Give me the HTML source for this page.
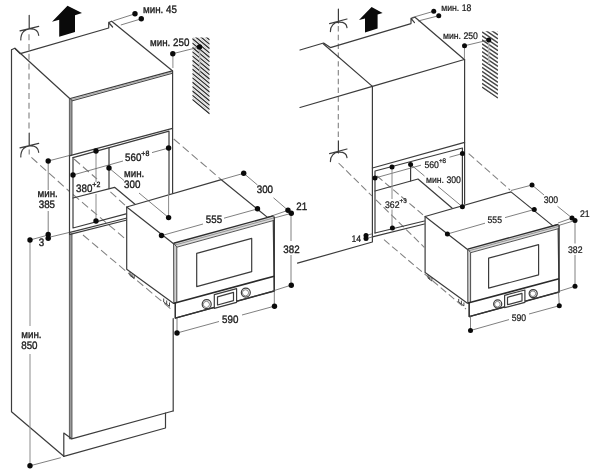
<!DOCTYPE html>
<html><head><meta charset="utf-8"><title>diagram</title>
<style>
html,body{margin:0;padding:0;background:#fff;}
svg{display:block;will-change:transform}
text{font-family:"Liberation Sans",sans-serif;font-size:9.8px;fill:#1c1c1c;stroke:#1c1c1c;stroke-width:.32;text-rendering:geometricPrecision}
.m{stroke:#3c3c3c;stroke-width:1.2;fill:none;stroke-linejoin:round;stroke-linecap:round}
.mw{stroke:#3c3c3c;stroke-width:1.2;fill:#fff;stroke-linejoin:round}
.t{stroke:#555;stroke-width:.7;fill:none}
.d{stroke:#555;stroke-width:.75;fill:none}
.g{stroke:#8c8c8c;stroke-width:1;fill:none}
.f{stroke:#333;stroke-width:.9;fill:none}
.h{stroke:#808080;stroke-width:1.05;fill:none;stroke-dasharray:8 3.8}
.hv{stroke:#808080;stroke-width:1.1;fill:none;stroke-dasharray:6 3.8}
#R .h{stroke-dasharray:7.2 3.4}
#R .hv{stroke-dasharray:5.4 3.4}
.k{fill:#0a0a0a}
.s{font-size:7px}
#R text{font-size:8.7px;stroke-width:.22}
#R .s{font-size:6.3px}
</style></head><body>
<svg width="600" height="471" viewBox="0 0 600 471">
<rect width="600" height="471" fill="#fff"/>

<!-- ================= LEFT DIAGRAM ================= -->
<g id="L">
<g id="hatchL"><clipPath id="hlc"><path d="M192.3 37.5 L209.7 37.5 L209.7 114.9 L192.3 100.5 Z"/></clipPath>
<path clip-path="url(#hlc)" d="M192.3 99.50 L209.7 113.94 M192.3 95.15 L209.7 109.59 M192.3 90.80 L209.7 105.24 M192.3 86.45 L209.7 100.89 M192.3 82.10 L209.7 96.54 M192.3 77.75 L209.7 92.19 M192.3 73.40 L209.7 87.84 M192.3 69.05 L209.7 83.49 M192.3 64.70 L209.7 79.14 M192.3 60.35 L209.7 74.79 M192.3 56.00 L209.7 70.44 M192.3 51.65 L209.7 66.09 M192.3 47.30 L209.7 61.74 M192.3 42.95 L209.7 57.39 M192.3 38.60 L209.7 53.04 M192.3 34.25 L209.7 48.69 M192.3 29.90 L209.7 44.34 M192.3 25.55 L209.7 39.99" stroke="#303030" stroke-width="1.3" fill="none"/><path clip-path="url(#hlc)" d="M192.3 97.33 L209.7 111.77 M192.3 92.98 L209.7 107.42 M192.3 88.63 L209.7 103.07 M192.3 84.28 L209.7 98.72 M192.3 79.93 L209.7 94.37 M192.3 75.58 L209.7 90.02 M192.3 71.23 L209.7 85.67 M192.3 66.88 L209.7 81.32 M192.3 62.53 L209.7 76.97 M192.3 58.18 L209.7 72.62 M192.3 53.83 L209.7 68.27 M192.3 49.48 L209.7 63.92 M192.3 45.13 L209.7 59.57 M192.3 40.78 L209.7 55.22 M192.3 36.43 L209.7 50.87 M192.3 32.08 L209.7 46.52 M192.3 27.73 L209.7 42.17 M192.3 23.38 L209.7 37.82" stroke="#b0b0b0" stroke-width="0.6" fill="none"/>
<path d="M199.7 47 L199.7 74" stroke="#b5b5b5" stroke-width="1.2"/></g>
<!-- dashed guide lines -->
<path class="hv" d="M29 34.2 L29 132"/>
<path class="hv" d="M29.2 149.5 L29.2 154.5"/><path class="h" d="M31.4 157.4 L69.5 191.5"/>
<path class="h" d="M73 194.5 L126.4 239.8"/>
<path class="h" d="M74 159 L97 179"/>
<path class="h" d="M110.4 191.8 L126.2 206.4"/>
<path class="h" d="M83 235 L172 309.9"/>
<path class="h" d="M173.7 139 L221.3 179.7"/>
<!-- symbols -->
<path class="m" d="M29.2 15.3 L29.2 29.2 M20 30.8 L38.7 26.3 M20.8 40 C20.6 33 25 28.6 30.2 28.8 C35 28.6 38.3 31 38.7 35.3"/>
<path class="m" d="M29.2 133 L29.2 146 M20 147.8 L38.7 143.3 M20.8 157 C20.6 150 25 145.6 30.2 145.8 C35 145.6 38.3 148 38.7 152.3"/>
<!-- arrow -->
<path class="k" d="M67.5 5.8 L82 13 L75 15.3 L75 32 L59.2 36.7 L59.2 19.7 L52 21.7 Z"/>
<!-- cabinet outline -->
<path class="m" d="M11.5 49.8 L14.8 48.3 L20.3 53.7 L108.7 28 L108.7 22.5 L111.7 21.2 L172.4 70.8 M108.7 22.5 L112.6 27"/>
<path class="m" d="M11.5 49.8 L11.5 411.7 L63.8 456.3"/>
<path class="m" d="M14.8 48.3 L70 98.7"/>
<path d="M70.2 98.5 L172.4 70.8 L172.4 73.3 L72 100.9 Z" fill="#d8d8d8" stroke="none"/><path class="m" d="M70.2 98.5 L172.4 70.8"/><path d="M72 100.9 L172.4 73.3" stroke="#444" stroke-width="1" fill="none"/><path d="M71 99.7 L172.4 72" stroke="#8a8a8a" stroke-width=".6" fill="none"/>
<path class="m" d="M172.6 70.8 L172.6 205 M173.2 318.5 L173.2 411"/>
<path d="M69.4 98.7 L72 100 L72 155.2 L69.4 155.8 Z" fill="#9a9a9a" stroke="#444" stroke-width=".8"/>
<path d="M69.4 234.5 L72 233.9 L72 438.8 L69.4 438.8 Z" fill="#9a9a9a" stroke="#444" stroke-width=".8"/>
<path class="m" d="M69.5 155.8 L69.5 234.5"/>
<!-- niche -->
<path class="m" d="M70 155.6 L172.5 128.3"/>
<path class="m" d="M73 157.6 L169 131.2 L169 194"/>
<path class="m" d="M73 157.6 L73 228 L127 213.6"/>
<path class="m" d="M109 148 L109 188.6"/>
<path class="m" d="M73 198 L114.6 187.3 L135 204.3"/>
<path class="m" d="M70 232.4 L127 218 M70 234.4 L127 220"/>
<!-- plinth -->
<path class="m" d="M63.8 456.3 L63.8 433 L71.7 438.8 L173 411"/>
<path class="m" d="M63.8 456.3 L165.5 428 L165.5 413"/>
<!-- microwave left -->
<g id="mwL">
<path class="mw" d="M126.7 207 L221.3 179.7 L267.5 217.4 L273.2 215.9 L274.2 290.8 L175.3 318.2 L175.3 303.3 L173.3 303.3 L126.7 269.2 Z"/>
<path class="m" d="M126.7 207 L174.2 244.2"/>
<path class="f" d="M130 272 L130 275.5 L134.2 278.6 L134.2 275 M132 277 L132 273.8"/>
<path class="f" d="M163.7 298.5 L163.7 302 L169.5 306.3 L169.5 302.5 M166.7 304.2 L166.7 300.5"/>
<path d="M173.6 243.2 L273.2 215.9 L274.2 220 L176.8 247 Z" fill="#dcdcdc" stroke="none"/>
<path d="M173.6 243.2 L273.2 215.9" stroke="#2e2e2e" stroke-width="1.4" fill="none"/>
<path d="M174.6 245.1 L273.8 217.9" stroke="#777" stroke-width=".7" fill="none"/>
<path d="M176.8 247.2 L274.2 220.3" stroke="#444" stroke-width=".9" fill="none"/>
<path d="M173.6 243.2 L176.8 247 L176.8 302.5 L173.8 303.3 Z" fill="#d0d0d0" stroke="#3a3a3a" stroke-width=".9"/>
<path d="M274.3 216.5 L274.3 291 L175.3 318.2 L175.3 303" stroke="#333" stroke-width="1.3" fill="none" stroke-linejoin="round"/>
<path d="M174 303.2 L274.2 276.2" stroke="#2a2a2a" stroke-width="1.6" fill="none"/>
<path class="m" d="M196.7 253.3 L251.7 238.3 L251.7 271.7 L196.7 286.7 Z"/>
<circle cx="206.7" cy="304.2" r="4.5" class="m"/><circle cx="206.4" cy="304.4" r="3.1" class="t"/>
<circle cx="245.8" cy="292.6" r="4.5" class="m"/><circle cx="245.5" cy="292.8" r="3.1" class="t"/>
<path class="mw" d="M214.3 294.6 L236.6 288.6 L236.6 302.3 L214.3 308.3 Z"/>
<path class="m" d="M217.5 296.8 L233.5 292.4 L233.5 300.6 L217.5 305 Z"/>
</g>
<!-- dimension lines -->
<path class="d" d="M113.3 20.8 L135 13.8 M120.8 25 L141.3 18.8"/>
<path class="g" d="M172.9 53.7 L172.9 68"/><path class="d" d="M172.8 53.7 L199.5 47"/>
<path class="d" d="M48.2 161 L69 155.6 M48.2 161 L48.2 190 M48.2 211 L48.2 236"/>
<path class="g" d="M96 151 L96 182 M96 194 L96 221"/>
<path class="d" d="M73 175 L123 161 M152 152.6 L168.6 148"/>
<path class="g" d="M168.6 148 L168.6 217.6"/>
<path class="d" d="M109 168 L124 180.5 M139 193 L168.6 217.6"/>
<path class="d" d="M30 240 L48.2 235 M48.2 237.5 L69 232.5 M30 465.8 L60.8 457.7"/><path class="g" d="M30 240 L30 326 M30 354 L30 465.8"/>
<path class="d" d="M161.6 235.6 L203 224 M224 218.2 L257.5 208.9"/>
<path class="d" d="M222 179.5 L243.7 173.3 L257.5 185 M273.5 197.8 L288 210.3 M273 215.5 L288 210.3 M274.2 218 L291.3 213.3"/>
<path class="d" d="M291 213 L291 241 M291 255 L291 285.2 L274.3 290.5 L274.3 306.2 M274.3 306.2 L242 315 M219 321.5 L177 333 L177 318"/>
<g class="k"><circle cx="135" cy="13.8" r="2.7"/><circle cx="141.3" cy="18.8" r="2.7"/><circle cx="172.8" cy="53.7" r="2.7"/><circle cx="199.5" cy="47" r="2.7"/><circle cx="48.2" cy="161" r="2.7"/><circle cx="48.2" cy="234.5" r="2.7"/><circle cx="48.2" cy="238.2" r="2.7"/><circle cx="30" cy="240" r="2.7"/><circle cx="96" cy="151" r="2.7"/><circle cx="96" cy="221" r="2.7"/><circle cx="73" cy="175" r="2.7"/><circle cx="109" cy="168" r="2.7"/><circle cx="168.6" cy="148" r="2.7"/><circle cx="168.6" cy="217.6" r="2.7"/><circle cx="161.5" cy="235.5" r="2.7"/><circle cx="243.7" cy="173.3" r="2.7"/><circle cx="257.5" cy="208.7" r="2.7"/><circle cx="288" cy="210.3" r="2.7"/><circle cx="291.3" cy="213.3" r="2.7"/><circle cx="291.3" cy="285.3" r="2.7"/><circle cx="274.5" cy="306.3" r="2.7"/><circle cx="177" cy="333" r="2.7"/><circle cx="30" cy="465.8" r="2.7"/></g>
<text transform="translate(143 13.3) scale(1 1.1)">мин. 45</text>
<text transform="translate(150 46.3) scale(1 1.1)">мин. 250</text>
<text transform="translate(125 161) scale(1 1.1)">560<tspan class="s" dy="-4.5">+8</tspan></text>
<text transform="translate(76 192) scale(1 1.1)">380<tspan class="s" dy="-4.5">+2</tspan></text>
<text transform="translate(124 177) scale(1 1.1)">мин.</text><text transform="translate(124 188) scale(1 1.1)">300</text>
<text transform="translate(37.5 196.7) scale(1 1.1)">мин.</text><text transform="translate(38.7 208) scale(1 1.1)">385</text>
<text transform="translate(38.7 245.5) scale(1 1.1)">3</text>
<text transform="translate(21.2 337.5) scale(1 1.1)">мин.</text><text transform="translate(21.2 348.7) scale(1 1.1)">850</text>
<text transform="translate(205.8 223.3) scale(1 1.1)">555</text>
<text transform="translate(256.7 193.3) scale(1 1.1)">300</text>
<text transform="translate(296.3 209.7) scale(1 1.1)">21</text>
<text transform="translate(283.3 252.5) scale(1 1.1)">382</text>
<text transform="translate(222 322.5) scale(1 1.1)">590</text>
</g>

<!-- ================= RIGHT DIAGRAM ================= -->
<g id="R">
<g id="hatchR"><clipPath id="hrc"><path d="M482 31.2 L498 31.2 L498 99.1 L482 88.2 Z"/></clipPath>
<path clip-path="url(#hrc)" d="M482 87.20 L498 98.08 M482 83.25 L498 94.13 M482 79.30 L498 90.18 M482 75.35 L498 86.23 M482 71.40 L498 82.28 M482 67.45 L498 78.33 M482 63.50 L498 74.38 M482 59.55 L498 70.43 M482 55.60 L498 66.48 M482 51.65 L498 62.53 M482 47.70 L498 58.58 M482 43.75 L498 54.63 M482 39.80 L498 50.68 M482 35.85 L498 46.73 M482 31.90 L498 42.78 M482 27.95 L498 38.83 M482 24.00 L498 34.88 M482 20.05 L498 30.93" stroke="#484848" stroke-width="1.45" fill="none"/>
<path d="M488.75 40 L488.75 64" stroke="#b5b5b5" stroke-width="1.2"/></g>
<!-- dashed -->
<path class="hv" d="M338.3 26 L338.3 141"/>
<path class="h" d="M338.6 163 L372 196"/>
<path class="h" d="M376 199.8 L424.3 247.3"/>
<path class="h" d="M377 176 L424.4 216"/>
<path class="h" d="M384 239.7 L466 309"/>
<path class="h" d="M468.7 153.7 L510 190"/>
<!-- symbols -->
<path class="m" d="M338.4 9 L338.4 23 M329.6 23.6 L347 19 M330.4 31.6 C330.2 26 334 22.2 338.8 22.2 C343.5 22 346.6 24 347 27.6"/>
<path class="m" d="M338.4 141 L338.4 153 M329.6 153.6 L347 149 M330.4 161.6 C330.2 156 334 152.2 338.8 152.2 C343.5 152 346.6 154 347 157.6"/>
<path class="k" d="M371.6 7 L382.6 13 L377.6 14.4 L377.6 28.6 L365 32.4 L365 18.4 L359 20 Z"/>
<!-- cabinet -->
<path class="m" d="M300 50 L323.6 43 L330.4 47.6 L411 23.6 L411 18.4 L415 17.2 L464.3 59.5 M411 18.4 L414.5 22.6"/>
<path class="m" d="M323.2 43.8 L372.4 86.4"/>
<path class="m" d="M300 107.5 L372.4 86.4 L464.3 59.5"/>
<path class="m" d="M372.4 86.4 L372.4 242 L297.5 263.2"/>
<path class="m" d="M464.6 59.5 L464.6 204"/>
<path class="m" d="M372.4 168 L464.6 142.4"/>
<path class="m" d="M375 233 L375 171 L462.4 148 L462.4 207"/>
<path class="m" d="M410.6 164.4 L410.6 181"/>
<path class="m" d="M375 191 L418 179 L452 208"/>
<path class="m" d="M375 233 L424.4 221 M372.4 236.8 L424.4 224"/>
<!-- microwave -->
<g id="mwR">
<path class="mw" d="M 425.1 216.5 L 511.0 191.9 L 552.9 225.9 L 558.1 224.5 L 559.0 291.9 L 469.2 316.6 L 469.2 303.2 L 467.4 303.2 L 425.1 272.5 Z"/>
<path class="m" d="M 425.1 216.5 L 468.2 250.0"/>
<path class="f" d="M 428.1 275.0 L 428.1 278.2 L 431.9 281.0 L 431.9 277.7 M 429.9 279.5 L 429.9 276.6"/>
<path class="f" d="M 458.7 298.9 L 458.7 302.0 L 463.9 305.9 L 463.9 302.5 M 461.4 304.0 L 461.4 300.7"/>
<path d="M 467.7 249.1 L 558.1 224.5 L 559.0 228.2 L 470.6 252.5 Z" fill="#dcdcdc" stroke="none"/>
<path d="M 467.7 249.1 L 558.1 224.5" stroke="#2e2e2e" stroke-width="1.4" fill="none"/>
<path d="M 468.6 250.8 L 558.6 226.3" stroke="#777" stroke-width=".7" fill="none"/>
<path d="M 470.6 252.7 L 559.0 228.5" stroke="#444" stroke-width=".9" fill="none"/>
<path d="M 467.7 249.1 L 470.6 252.5 L 470.6 302.5 L 467.8 303.2 Z" fill="#d0d0d0" stroke="#3a3a3a" stroke-width=".9"/>
<path d="M 559.1 225.1 L 559.1 292.1 L 469.2 316.6 L 469.2 302.9" stroke="#333" stroke-width="1.3" fill="none" stroke-linejoin="round"/>
<path d="M 468.0 303.1 L 559.0 278.8" stroke="#2a2a2a" stroke-width="1.6" fill="none"/>
<path class="m" d="M 488.6 258.2 L 538.6 244.7 L 538.6 274.8 L 488.6 288.2 Z"/>
<circle cx="497.7" cy="304.0" r="4.05" class="m"/><circle cx="497.4" cy="304.2" r="2.79" class="t"/>
<circle cx="533.2" cy="293.6" r="4.05" class="m"/><circle cx="532.9" cy="293.7" r="2.79" class="t"/>
<path class="mw" d="M 504.6 295.4 L 524.9 290.0 L 524.9 302.3 L 504.6 307.7 Z"/>
<path class="m" d="M 507.5 297.3 L 522.0 293.4 L 522.0 300.8 L 507.5 304.7 Z"/>
</g>
<!-- dims -->
<path class="d" d="M412 17.6 L433.75 11.25 M418 21 L438.75 15.75"/>
<path class="g" d="M464.5 45.75 L464.4 59"/><path class="d" d="M464.5 45.75 L488.75 40"/>
<path class="d" d="M375 178 L421 165.2 M449.5 157.2 L462.4 153.6"/>
<path class="g" d="M392 167 L392 199 M392 209.5 L392 228"/>
<path class="d" d="M410.6 164.4 L424.5 176 M438 186.5 L462.4 206.8"/>
<path class="d" d="M366 235.4 L372.4 233.8 M366 238.6 L373 236.8"/>
<path class="d" d="M447.4 234 L485 223.2 M505 217.6 L534.25 209.5"/>
<path class="d" d="M511 190.5 L532 185 L544 195 M557.5 206.3 L572 218 L558 223 M558.5 225.5 L575 220.5"/>
<path class="d" d="M575 220.5 L575 243.5 M575 255 L575 286.25 L558.5 291.5 L559.3 305.7 L529 314 M509 319.6 L470.5 330.5 L470.5 316"/>
<g class="k"><circle cx="433.75" cy="11.25" r="2.5"/><circle cx="438.75" cy="15.75" r="2.5"/><circle cx="464.5" cy="45.75" r="2.5"/><circle cx="488.75" cy="40" r="2.5"/><circle cx="392" cy="167" r="2.5"/><circle cx="410.6" cy="164.4" r="2.5"/><circle cx="375" cy="178" r="2.5"/><circle cx="462.4" cy="153.6" r="2.5"/><circle cx="462.4" cy="206.8" r="2.5"/><circle cx="392.4" cy="228" r="2.5"/><circle cx="366" cy="235.4" r="2.5"/><circle cx="366" cy="238.6" r="2.5"/><circle cx="447.4" cy="234" r="2.5"/><circle cx="532" cy="185" r="2.5"/><circle cx="534.25" cy="209.5" r="2.5"/><circle cx="572" cy="218" r="2.5"/><circle cx="575" cy="220.5" r="2.5"/><circle cx="575" cy="286.25" r="2.5"/><circle cx="559.3" cy="305.7" r="2.5"/><circle cx="470.5" cy="330.5" r="2.5"/></g>
<text transform="translate(441.2 10.5) scale(1 1.1)">мин. 18</text>
<text transform="translate(443 38.7) scale(1 1.1)">мин. 250</text>
<text transform="translate(424.4 167.6) scale(1 1.1)">560<tspan class="s" dy="-4.3">+8</tspan></text>
<text transform="translate(426 183) scale(1 1.1)">мин. 300</text>
<text transform="translate(385 207.6) scale(1 1.1)">362<tspan class="s" dy="-4.3">+3</tspan></text>
<text transform="translate(351.5 241.5) scale(1 1.1)">14</text>
<text transform="translate(487.5 223.2) scale(1 1.1)">555</text>
<text transform="translate(543.7 203) scale(1 1.1)">300</text>
<text transform="translate(580 217) scale(1 1.1)">21</text>
<text transform="translate(568 252.5) scale(1 1.1)">382</text>
<text transform="translate(511.7 321) scale(1 1.1)">590</text>
</g>
</svg>
</body></html>
